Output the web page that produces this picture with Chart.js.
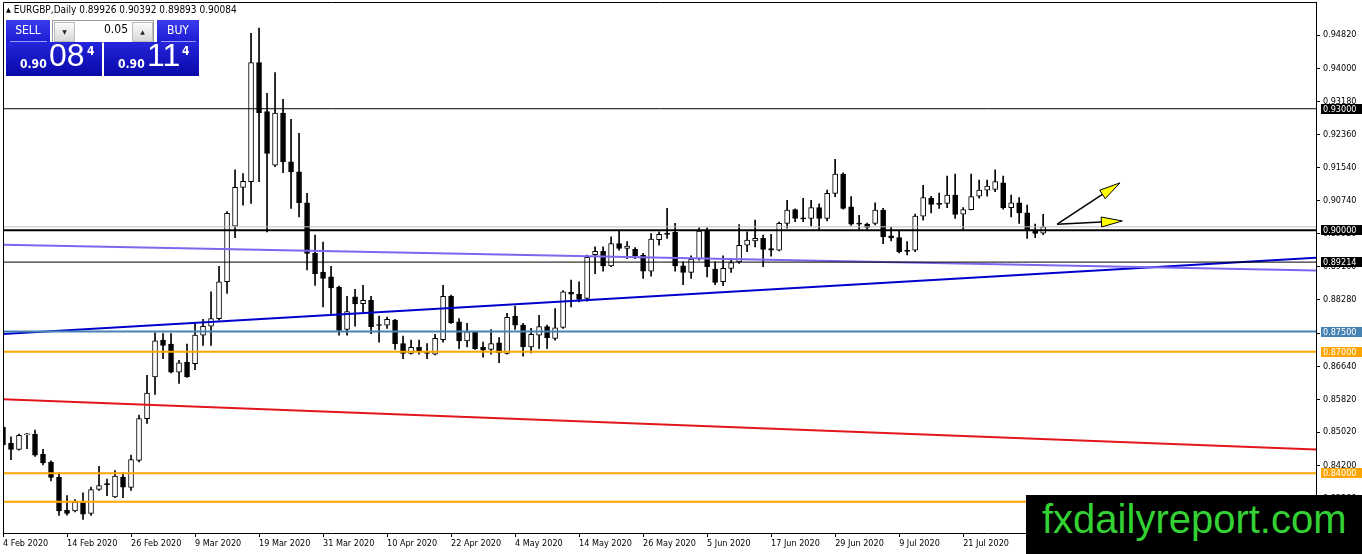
<!DOCTYPE html>
<html lang="en">
<head>
<meta charset="UTF-8">
<title>EURGBP,Daily</title>
<style>
  body { margin: 0; background: #fff; }
  #wrap { position: relative; width: 1362px; height: 554px; overflow: hidden; }
  #chart { position: absolute; left: 0; top: 0; }
  #hdr { position: absolute; left: 6px; top: 4px; font: 10px 'DejaVu Sans Condensed', 'DejaVu Sans', sans-serif; color: #000; white-space: pre; }
  #hdr .tri { font-size: 7px; position: relative; top: -1px; }
  .btn { position: absolute; top: 20px; height: 22px; background: linear-gradient(#3a3aee, #1d1dd4); color: #fff;
         font: 12px 'DejaVu Sans Condensed', 'DejaVu Sans', sans-serif; text-align: center; line-height: 21px; }
  .btn:after { content: ''; position: absolute; left: 4px; right: 3px; bottom: 0; border-bottom: 1px solid #9a9aff; }
  #sell { left: 6px; width: 44px; }
  #buy { left: 157px; width: 42px; }
  #spin { position: absolute; left: 52px; top: 20px; width: 100px; height: 21px; background: #fff; border: 1px solid #9a9a9a; }
  #spin .b { position: absolute; top: 1px; width: 19px; height: 18px; background: linear-gradient(#fbfbfb, #d8d8d8); border: 1px solid #bdbdbd;
             font: 6px 'DejaVu Sans', sans-serif; color: #222; text-align: center; line-height: 18px; }
  #spin .dn { left: 1px; }
  #spin .up { left: 79px; }
  #spin .v { position: absolute; right: 25px; top: 1px; line-height: 21px; font: 12px 'DejaVu Sans Condensed', 'DejaVu Sans', sans-serif; color: #000; }
  .px { position: absolute; top: 42px; height: 34px; background: linear-gradient(#2525dc, #0808a8); color: #fff; font-family: 'DejaVu Sans Condensed', 'DejaVu Sans', sans-serif; }
  #sellp { left: 6px; width: 96px; }
  #buyp { left: 104px; width: 95px; }
  .px .sm { position: absolute; bottom: 5px; font-size: 12px; font-weight: bold; }
  .px .big { position: absolute; bottom: 2px; font-size: 32px; font-family: 'Liberation Sans', Arial, sans-serif; }
  .px .sup { position: absolute; top: 2px; font-size: 12px; font-weight: bold; }
  #brand { position: absolute; left: 1026px; top: 495px; width: 336px; height: 59px; background: #000; }
  #brand span { position: absolute; left: 16px; top: 5px; font: 40px/39px 'Liberation Sans', Arial, sans-serif; color: #33d133; }
</style>
</head>
<body>
<div id="wrap">
  <canvas id="chart" width="1362" height="554"></canvas>
  <div id="hdr"><span class="tri">▲</span> EURGBP,Daily 0.89926 0.90392 0.89893 0.90084</div>
  <div class="btn" id="sell">SELL</div>
  <div id="spin"><span class="b dn">▼</span><span class="v">0.05</span><span class="b up">▲</span></div>
  <div class="btn" id="buy">BUY</div>
  <div class="px" id="sellp"><span class="sm" style="left:14px">0.90</span><span class="big" style="left:43px">08</span><span class="sup" style="left:81px">4</span></div>
  <div class="px" id="buyp"><span class="sm" style="left:14px">0.90</span><span class="big" style="left:43px">11</span><span class="sup" style="left:78px">4</span></div>
  <div id="brand"><span>fxdailyreport.com</span></div>
</div>

<script src="https://cdn.jsdelivr.net/npm/chart.js"></script>
<script>
    // daily EURGBP candles, bar 0 = 4 Feb 2020
    const opens = [
        0.8514, 0.8474, 0.8459, 0.8495, 0.8497, 0.8447, 0.8428, 0.8390, 0.8309, 0.8307,
        0.8327, 0.8301, 0.8360, 0.8374, 0.8342, 0.8391, 0.8365, 0.8432, 0.8535, 0.8638,
        0.8729, 0.8719, 0.8650, 0.8674, 0.8671, 0.8741, 0.8763, 0.8782, 0.8873, 0.9010,
        0.9106, 0.9120, 0.9414, 0.9293, 0.9161, 0.9289, 0.9169, 0.9144, 0.9068, 0.8943,
        0.8897, 0.8885, 0.8860, 0.8755, 0.8836, 0.8819, 0.8827, 0.8767, 0.8766, 0.8778,
        0.8720, 0.8696, 0.8711, 0.8700, 0.8694, 0.8730, 0.8837, 0.8774, 0.8727, 0.8749,
        0.8711, 0.8706, 0.8722, 0.8696, 0.8788, 0.8766, 0.8712, 0.8741, 0.8762, 0.8733,
        0.8760, 0.8847, 0.8842, 0.8832, 0.8940, 0.8948, 0.8912, 0.8967, 0.8955, 0.8953,
        0.8939, 0.8899, 0.8977, 0.8993, 0.8995, 0.8912, 0.8896, 0.8929, 0.9000, 0.8904,
        0.8873, 0.8906, 0.8922, 0.8963, 0.8974, 0.8980, 0.8955, 0.8951, 0.9017, 0.9051,
        0.9030, 0.9029, 0.9056, 0.9029, 0.9091, 0.9139, 0.9058, 0.9018, 0.9015, 0.9017,
        0.9050, 0.8986, 0.8982, 0.8951, 0.8951, 0.9035, 0.9079, 0.9066, 0.9066, 0.9087,
        0.9040, 0.9051, 0.9084, 0.9099, 0.9101, 0.9117, 0.9056, 0.9068, 0.9043, 0.9000,
        0.89926
    ];
    const highs = [
        0.8536, 0.8490, 0.8497, 0.8499, 0.8507, 0.8459, 0.8431, 0.8401, 0.8345, 0.8335,
        0.8352, 0.8366, 0.8417, 0.8386, 0.8407, 0.8401, 0.8445, 0.8544, 0.8642, 0.8747,
        0.8745, 0.8745, 0.8679, 0.8719, 0.8770, 0.8780, 0.8848, 0.8911, 0.9046, 0.9149,
        0.9140, 0.9486, 0.9499, 0.9338, 0.9389, 0.9323, 0.9274, 0.9239, 0.9091, 0.8988,
        0.8971, 0.8911, 0.8862, 0.8837, 0.8854, 0.8864, 0.8837, 0.8788, 0.8786, 0.8780,
        0.8739, 0.8729, 0.8729, 0.8720, 0.8743, 0.8864, 0.8840, 0.8782, 0.8770, 0.8750,
        0.8724, 0.8755, 0.8735, 0.8795, 0.8813, 0.8770, 0.8758, 0.8790, 0.8766, 0.8807,
        0.8851, 0.8877, 0.8873, 0.8939, 0.8959, 0.8959, 0.8984, 0.9000, 0.8972, 0.8957,
        0.8943, 0.8992, 0.8996, 0.9054, 0.9017, 0.8922, 0.8937, 0.9006, 0.9006, 0.8922,
        0.8937, 0.8926, 0.9014, 0.8996, 0.9025, 0.8988, 0.8990, 0.9020, 0.9074, 0.9053,
        0.9079, 0.9074, 0.9065, 0.9099, 0.9175, 0.9142, 0.9083, 0.9037, 0.9018, 0.9068,
        0.9054, 0.9008, 0.9000, 0.8972, 0.9040, 0.9111, 0.9084, 0.9092, 0.9134, 0.9139,
        0.9056, 0.9139, 0.9124, 0.9124, 0.9149, 0.9134, 0.9087, 0.9081, 0.9062, 0.9015,
        0.90392
    ];
    const lows = [
        0.8465, 0.8434, 0.8457, 0.8461, 0.8442, 0.8421, 0.8381, 0.8296, 0.8297, 0.8305,
        0.8286, 0.8296, 0.8358, 0.8345, 0.8340, 0.8340, 0.8358, 0.8428, 0.8523, 0.8595,
        0.8683, 0.8648, 0.8622, 0.8637, 0.8656, 0.8716, 0.8716, 0.8778, 0.8844, 0.8982,
        0.9062, 0.9066, 0.9120, 0.8996, 0.9157, 0.9142, 0.9054, 0.9033, 0.8902, 0.8864,
        0.8811, 0.8790, 0.8741, 0.8741, 0.8763, 0.8799, 0.8745, 0.8724, 0.8758, 0.8706,
        0.8683, 0.8694, 0.8694, 0.8683, 0.8692, 0.8724, 0.8770, 0.8708, 0.8712, 0.8706,
        0.8687, 0.8694, 0.8673, 0.8694, 0.8755, 0.8689, 0.8697, 0.8708, 0.8708, 0.8729,
        0.8758, 0.8811, 0.8823, 0.8825, 0.8893, 0.8899, 0.8910, 0.8951, 0.8930, 0.8930,
        0.8881, 0.8887, 0.8963, 0.8980, 0.8899, 0.8866, 0.8881, 0.8926, 0.8885, 0.8866,
        0.8863, 0.8896, 0.8918, 0.8947, 0.8959, 0.8910, 0.8936, 0.8949, 0.9005, 0.9021,
        0.9021, 0.9010, 0.9000, 0.9023, 0.9083, 0.9052, 0.9012, 0.9002, 0.9002, 0.9013,
        0.8967, 0.8974, 0.8944, 0.8939, 0.8947, 0.9025, 0.9043, 0.9054, 0.9056, 0.9029,
        0.9002, 0.9050, 0.9079, 0.9084, 0.9095, 0.9052, 0.9033, 0.9017, 0.8980, 0.8982,
        0.89893
    ];
    const closes = [
        0.8470, 0.8459, 0.8494, 0.8497, 0.8445, 0.8426, 0.8390, 0.8307, 0.8301, 0.8329,
        0.8299, 0.8360, 0.8370, 0.8372, 0.8393, 0.8366, 0.8434, 0.8535, 0.8598, 0.8727,
        0.8716, 0.8650, 0.8673, 0.8638, 0.8741, 0.8763, 0.8782, 0.8873, 0.9042, 0.9106,
        0.9121, 0.9414, 0.9290, 0.9190, 0.9289, 0.9169, 0.9144, 0.9068, 0.8943, 0.8893,
        0.8881, 0.8858, 0.8753, 0.8799, 0.8818, 0.8827, 0.8762, 0.8765, 0.8780, 0.8720,
        0.8696, 0.8711, 0.8702, 0.8696, 0.8733, 0.8837, 0.8771, 0.8727, 0.8749, 0.8708,
        0.8704, 0.8720, 0.8697, 0.8785, 0.8766, 0.8712, 0.8743, 0.8762, 0.8735, 0.8759,
        0.8848, 0.8842, 0.8829, 0.8933, 0.8948, 0.8912, 0.8967, 0.8955, 0.8961, 0.8937,
        0.8899, 0.8978, 0.8990, 0.8990, 0.8912, 0.8896, 0.8929, 0.8998, 0.8910, 0.8871,
        0.8906, 0.8920, 0.8963, 0.8976, 0.8980, 0.8953, 0.8951, 0.9017, 0.9050, 0.9029,
        0.9028, 0.9056, 0.9029, 0.9091, 0.9139, 0.9054, 0.9015, 0.9015, 0.9007, 0.9050,
        0.8984, 0.8981, 0.8947, 0.8948, 0.9035, 0.9081, 0.9064, 0.9064, 0.9087, 0.9039,
        0.9051, 0.9083, 0.9099, 0.9109, 0.9120, 0.9056, 0.9068, 0.9043, 0.9002, 0.8992,
        0.90084
    ];

    // date labels on the time axis, at these bar numbers
    const dateBars = [0, 8, 16, 24, 32, 40, 48, 56, 64, 72, 80, 88, 96, 104, 112, 120];
    const dateLabels = ['4 Feb 2020', '14 Feb 2020', '26 Feb 2020', '9 Mar 2020', '19 Mar 2020', '31 Mar 2020',
        '10 Apr 2020', '22 Apr 2020', '4 May 2020', '14 May 2020', '26 May 2020', '5 Jun 2020',
        '17 Jun 2020', '29 Jun 2020', '9 Jul 2020', '21 Jul 2020'];

    // price scale
    const priceTicks = [0.94820, 0.94000, 0.93180, 0.92360, 0.91540, 0.90740, 0.89920, 0.89100,
        0.88280, 0.87460, 0.86640, 0.85820, 0.85020, 0.84200, 0.83380];
    const priceMin = 0.82527, priceMax = 0.95635;
    const barMin = 0, barMax = 164.1;

    // horizontal levels and trend lines (bar, price)
    const levels = [0.93000, 0.90000, 0.89214, 0.87500, 0.87000, 0.84000, 0.83300];
    const redTrend = [[0, 0.8583], [164.1, 0.8459]];
    const blueTrend = [[0, 0.8744], [164.1, 0.8932]];
    const purpleTrend = [[0, 0.8964], [164.1, 0.8901]];
    const arrowTail = [131.75, 0.9015];
    const arrowTips = [[139.6, 0.9117], [139.9, 0.9023]];

    // styles
    const levelColors = ['#000000', '#000000', '#000000', '#4682b4', '#ffa500', '#ffa500', '#ffa500'];
    const levelWidths = [1, 2, 1, 2, 2, 2, 2];
    const FONT = "'DejaVu Sans Condensed', 'DejaVu Sans', sans-serif";

    const hLine = (p, color, width) => ({
        type: 'line', order: 0, data: [{ x: barMin, y: p }, { x: barMax, y: p }],
        borderColor: color, borderWidth: width, pointRadius: 0, fill: false
    });
    const tLine = (pts, color, width) => ({
        type: 'line', order: 0, data: pts.map(p => ({ x: p[0], y: p[1] })),
        borderColor: color, borderWidth: width, pointRadius: 0, fill: false
    });

    const datasets = [
        {
            type: 'bar', order: 1, grouped: false,
            data: opens.map((o, i) => ({ x: i, y: [o, closes[i]] })),
            backgroundColor: c => closes[c.dataIndex] >= opens[c.dataIndex] ? '#ffffff' : '#000000',
            borderColor: '#000', borderWidth: 1, borderSkipped: false, barThickness: 5, minBarLength: 1
        },
        {
            type: 'bar', order: 2, grouped: false,
            data: lows.map((l, i) => ({ x: i, y: [l, highs[i]] })),
            backgroundColor: '#000', barThickness: 1
        },
        hLine(closes[closes.length - 1], '#c0c0c0', 1),
        ...levels.map((p, i) => hLine(p, levelColors[i], levelWidths[i])),
        tLine(redTrend, '#e3161b', 2),
        tLine(purpleTrend, '#7b68ee', 2),
        tLine(blueTrend, '#0000cd', 2)
    ];

    // frame, arrows and price labels on the right scale
    const overlay = {
        id: 'overlay',
        afterDraw(chart) {
            const { ctx, chartArea: a, scales: { x, y } } = chart;
            ctx.save();
            ctx.strokeStyle = '#000';
            ctx.lineWidth = 1;
            ctx.beginPath();
            ctx.moveTo(a.left + 0.5, a.bottom);
            ctx.lineTo(a.left + 0.5, a.top + 0.5);
            ctx.lineTo(a.right, a.top + 0.5);
            ctx.stroke();

            const sx = x.getPixelForValue(arrowTail[0]), sy = y.getPixelForValue(arrowTail[1]);
            arrowTips.forEach(t => {
                const ex = x.getPixelForValue(t[0]), ey = y.getPixelForValue(t[1]);
                const len = Math.hypot(ex - sx, ey - sy);
                const ux = (ex - sx) / len, uy = (ey - sy) / len;
                const bx = ex - ux * 21, by = ey - uy * 21;
                ctx.lineWidth = 1.5;
                ctx.beginPath();
                ctx.moveTo(sx, sy);
                ctx.lineTo(bx, by);
                ctx.stroke();
                ctx.lineWidth = 1;
                ctx.beginPath();
                ctx.moveTo(ex, ey);
                ctx.lineTo(bx - uy * 5, by + ux * 5);
                ctx.lineTo(bx + uy * 5, by - ux * 5);
                ctx.closePath();
                ctx.fillStyle = '#ffff00';
                ctx.fill();
                ctx.stroke();
            });

            ctx.font = '9px ' + FONT;
            ctx.textBaseline = 'middle';
            levels.forEach((p, i) => {
                const py = Math.round(y.getPixelForValue(p));
                ctx.fillStyle = levelColors[i];
                ctx.fillRect(a.right + 5, py - 5, chart.width - a.right - 5, 10);
                ctx.fillStyle = '#fff';
                ctx.fillText(p.toFixed(5), a.right + 7, py + 0.5);
            });
            ctx.restore();
        }
    };

    new Chart(document.getElementById('chart'), {
        type: 'bar',
        data: { datasets: datasets },
        options: {
            responsive: false,
            animation: false,
            events: [],
            layout: { padding: { left: 3, top: 2, right: 0, bottom: 0 } },
            plugins: { legend: { display: false }, tooltip: { enabled: false } },
            scales: {
                x: {
                    type: 'linear', min: barMin, max: barMax, offset: false,
                    grid: { drawOnChartArea: false, tickLength: 4, color: '#000', offset: false },
                    border: { color: '#000' },
                    ticks: {
                        autoSkip: false, maxRotation: 0, align: 'start', padding: 1, color: '#000',
                        font: { family: FONT, size: 9 },
                        callback: v => dateLabels[dateBars.indexOf(v)]
                    },
                    afterBuildTicks: s => { s.ticks = dateBars.map(v => ({ value: v })); },
                    afterFit: s => { s.height = 21; s.paddingLeft = 0; s.paddingRight = 0; }
                },
                y: {
                    position: 'right', min: priceMin, max: priceMax, beginAtZero: false,
                    grid: { drawOnChartArea: false, tickLength: 4, color: '#000' },
                    border: { color: '#000' },
                    ticks: {
                        padding: 3, color: '#000', font: { family: FONT, size: 9 },
                        callback: v => v.toFixed(5)
                    },
                    afterBuildTicks: s => { s.ticks = priceTicks.map(v => ({ value: v })); },
                    afterFit: s => { s.width = 46; s.paddingTop = 0; s.paddingBottom = 0; }
                }
            }
        },
        plugins: [overlay]
    });
</script>
</body>
</html>
